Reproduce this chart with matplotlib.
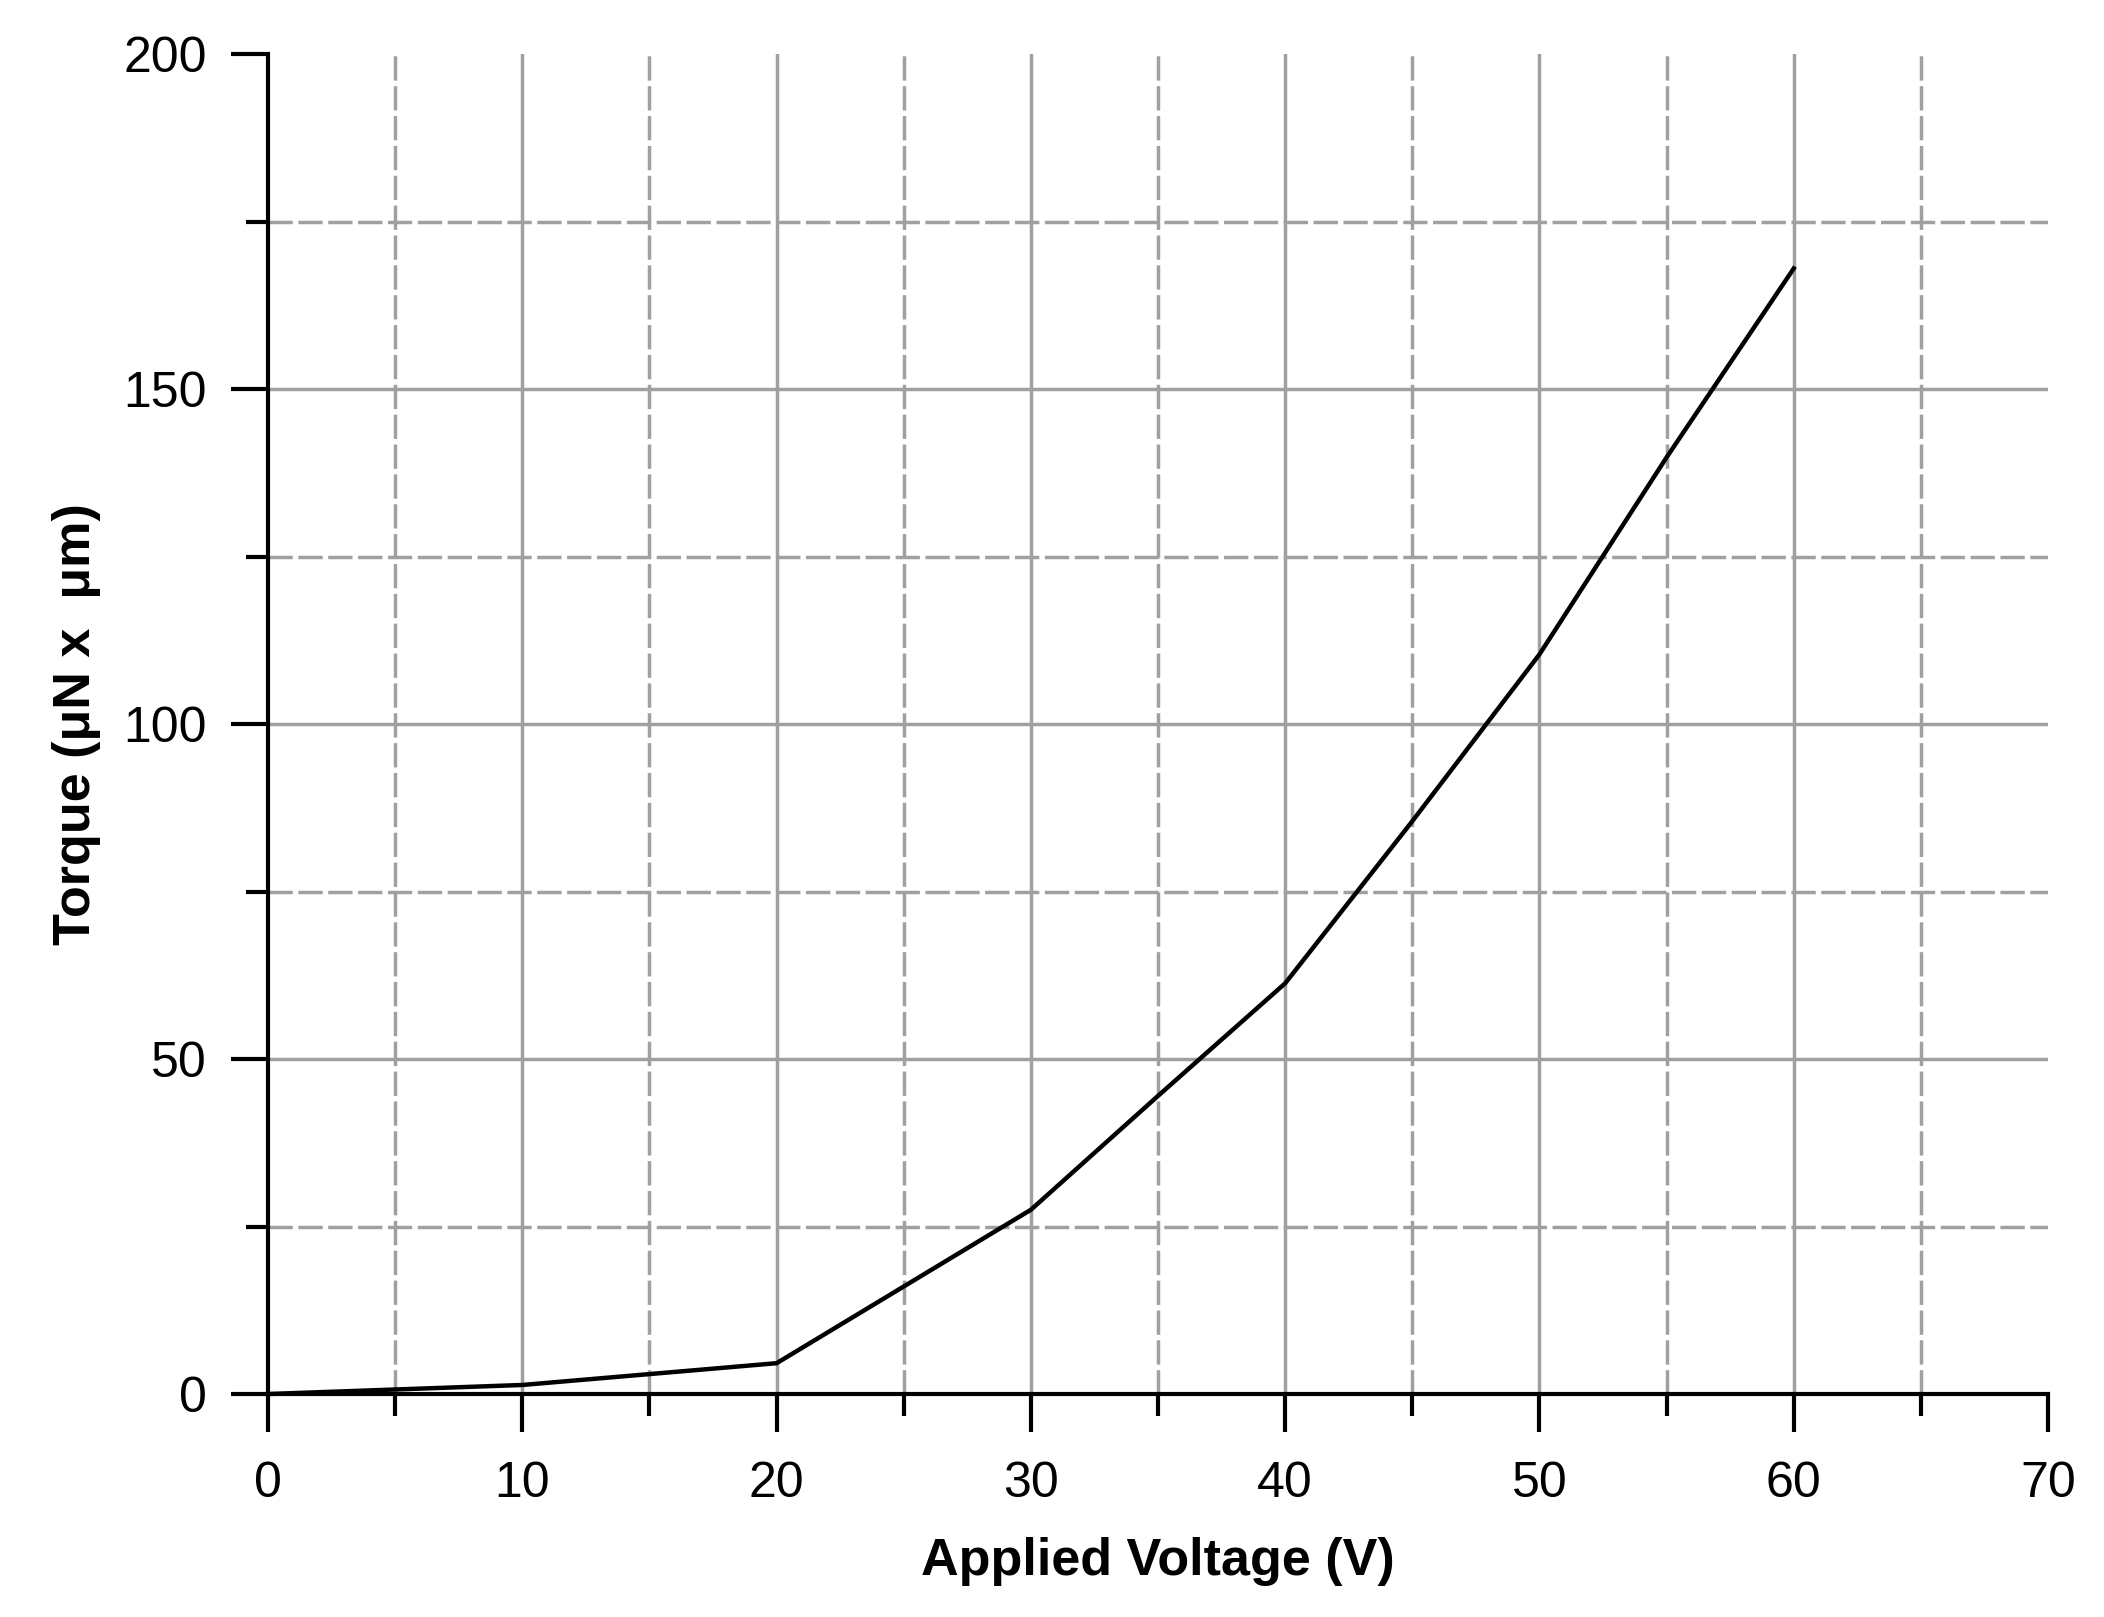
import matplotlib
matplotlib.use("Agg")
import matplotlib.pyplot as plt
from matplotlib.ticker import MultipleLocator

plt.rcParams["font.family"] = ["Liberation Sans", "DejaVu Sans"]

# data
voltage = [0, 10, 20, 30, 35, 40, 45, 50, 55, 60]
torque = [0.0, 1.35, 4.6, 27.5, 44.5, 61.3, 85.5, 110.4, 139.8, 168.0]

x_label = "Applied Voltage (V)"
y_label = "Torque (μN x  μm)"

GRID = "#a0a0a4"

fig = plt.figure(figsize=(21.04, 16.17), dpi=100)
ax = fig.add_axes([0.1274, 0.1379, 0.9734 - 0.1274, 0.9666 - 0.1379])

ax.plot(voltage, torque, color="black", lw=3.2, zorder=3,
        solid_joinstyle="miter", clip_on=False)

ax.set_xlim(0, 70)
ax.set_ylim(0, 200)
ax.xaxis.set_major_locator(MultipleLocator(10))
ax.xaxis.set_minor_locator(MultipleLocator(5))
ax.yaxis.set_major_locator(MultipleLocator(50))
ax.yaxis.set_minor_locator(MultipleLocator(25))

ax.grid(which="major", color=GRID, lw=2.5, ls="-")
ax.grid(which="minor", color=GRID, lw=2.5, ls=(0, (7, 1.6)))
ax.set_axisbelow(True)

for sp in ("top", "right"):
    ax.spines[sp].set_visible(False)
for sp in ("left", "bottom"):
    ax.spines[sp].set_linewidth(3.0)

ax.tick_params(which="major", direction="out", length=27, width=3.0,
               labelsize=36, colors="black")
ax.tick_params(which="minor", direction="out", length=16, width=3.0)
ax.tick_params(axis="x", which="major", pad=21)
ax.tick_params(axis="y", which="major", pad=17)

fig.canvas.draw()
# no gridlines drawn at the axis limits
for t in ax.xaxis.get_major_ticks():
    if abs(t.get_loc() - 70) < 1e-6 or abs(t.get_loc()) < 1e-6:
        t.gridline.set_visible(False)
for t in ax.yaxis.get_major_ticks():
    if abs(t.get_loc() - 200) < 1e-6 or abs(t.get_loc()) < 1e-6:
        t.gridline.set_visible(False)

ax.set_xlabel(x_label, fontsize=37.5, fontweight="bold", labelpad=22)
ax.set_ylabel(y_label, fontsize=37.5, fontweight="bold", labelpad=16)

fig.savefig("out.png", dpi=100)
